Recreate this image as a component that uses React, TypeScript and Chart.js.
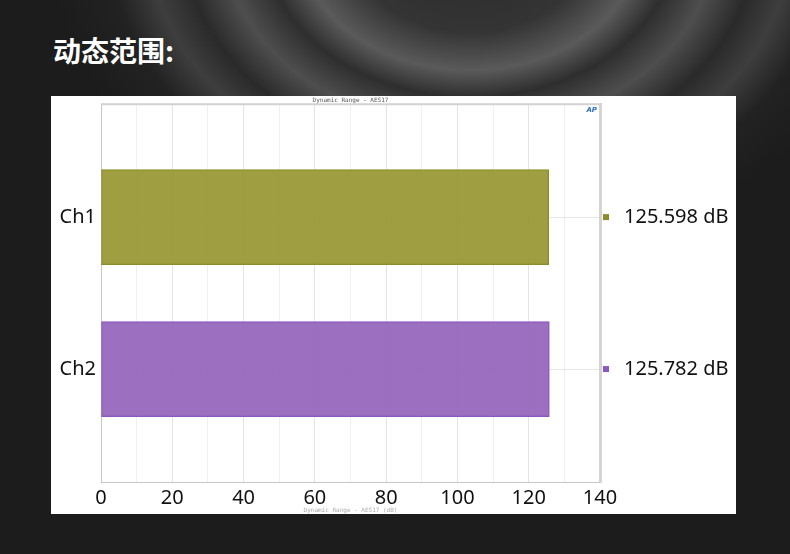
import React, { useEffect, useRef } from "react";
import { Chart, registerables } from "chart.js";

Chart.register(...registerables);

const categories = ["Ch1", "Ch2"];
const values = [125.598, 125.782];
const valueLabels = ["125.598 dB", "125.782 dB"];
const barFill = ["rgba(152,152,52,0.93)", "rgba(150,100,188,0.93)"];
const barBorder = ["#8c8c2c", "#8a58c0"];
const chartTitle = "Dynamic Range - AES17";
const xAxisTitle = "Dynamic Range - AES17 (dB)";
const xMin = 0;
const xMax = 140;
const xStep = 10;
const xLabelEvery = 20;

const FONT = "'Noto Sans', 'Open Sans', sans-serif";

const decorPlugin = {
  id: "decor",
  afterDraw(chart: any) {
    const { ctx, chartArea } = chart;
    const y = chart.scales.y;
    ctx.save();
    // top border of plot
    ctx.strokeStyle = "#d2d2d2";
    ctx.lineWidth = 2;
    ctx.beginPath();
    ctx.moveTo(chartArea.left, chartArea.top);
    ctx.lineTo(chartArea.right + 1, chartArea.top);
    ctx.stroke();
    // legend markers next to value labels
    categories.forEach((_, i) => {
      const cy = y.getPixelForValue(i);
      ctx.fillStyle = barBorder[i];
      ctx.fillRect(chartArea.right + 3, cy - 3, 6, 6);
    });
    // AP logo
    ctx.fillStyle = "#2d6fc4";
    ctx.font = "italic bold 7px 'DejaVu Sans', sans-serif";
    ctx.textAlign = "right";
    ctx.textBaseline = "middle";
    ctx.fillText("AP", chartArea.right - 3, chartArea.top + 6);
    ctx.restore();
  },
};

function App() {
  const ref = useRef<HTMLCanvasElement | null>(null);

  useEffect(() => {
    if (!ref.current) return;
    const idxTicks = (axis: any) => {
      axis.ticks = categories.map((_, i) => ({ value: i }));
    };
    const chart = new Chart(ref.current, {
      type: "bar",
      data: {
        datasets: [
          {
            data: values.map((v, i) => ({ x: v, y: i })),
            backgroundColor: barFill,
            borderColor: barBorder,
            borderWidth: 1,
            borderSkipped: false,
            barThickness: 95,
          } as any,
        ],
      },
      options: {
        animation: false,
        responsive: false,
        indexAxis: "y",
        layout: { padding: 0 },
        plugins: {
          legend: { display: false },
          tooltip: { enabled: false },
          title: {
            display: true,
            text: chartTitle,
            fullSize: false,
            color: "#555",
            font: { family: "'DejaVu Sans Mono', monospace", size: 6, weight: "normal" },
            padding: { top: 1, bottom: 0 },
          } as any,
        },
        scales: {
          x: {
            type: "linear",
            position: "bottom",
            min: xMin,
            max: xMax,
            offset: false,
            ticks: {
              stepSize: xStep,
              autoSkip: false,
              maxRotation: 0,
              padding: 4,
              color: "#111",
              font: { family: FONT, size: 20 },
              callback: (v: any) => (Number(v) % xLabelEvery === 0 ? String(v) : ""),
            },
            grid: {
              drawTicks: false,
              color: (c: any) => (c.tick && c.tick.value % xLabelEvery === 0 ? "#e4e4e4" : "#efefef"),
            },
            border: { color: "#c6c6c6", width: 1 },
            title: {
              display: true,
              text: xAxisTitle,
              color: "#aaa",
              font: { family: "'DejaVu Sans Mono', monospace", size: 6 },
              padding: 0,
            },
            afterFit: (axis: any) => {
              axis.height = 32;
            },
          },
          y: {
            type: "linear",
            position: "left",
            min: -0.743,
            max: 1.743,
            offset: false,
            reverse: true,
            afterBuildTicks: idxTicks,
            ticks: {
              padding: 5,
              color: "#111",
              font: { family: FONT, size: 20 },
              callback: (v: any) => categories[Number(v)] ?? "",
            },
            grid: { drawTicks: false, offset: false, color: "#e6e6e6" },
            border: { color: "#c6c6c6", width: 1 },
            afterFit: (axis: any) => {
              axis.width = 50;
              axis.paddingTop = 0;
              axis.paddingBottom = 0;
            },
          },
          y2: {
            type: "linear",
            position: "right",
            min: -0.743,
            max: 1.743,
            offset: false,
            reverse: true,
            afterBuildTicks: idxTicks,
            ticks: {
              padding: 24,
              color: "#111",
              font: { family: FONT, size: 20 },
              callback: (v: any) => valueLabels[Number(v)] ?? "",
            },
            grid: { display: false, drawTicks: false, offset: false },
            border: { color: "#d4d4d4", width: 3 },
            afterFit: (axis: any) => {
              axis.width = 136;
              axis.paddingTop = 0;
              axis.paddingBottom = 0;
            },
          },
        },
      } as any,
      plugins: [decorPlugin],
    });
    return () => chart.destroy();
  }, []);

  return (
    <div
      style={{
        position: "fixed",
        left: 0,
        top: 0,
        width: 790,
        height: 554,
        overflow: "hidden",
        background:
          "radial-gradient(ellipse 430px 330px at 470px -60px, #2a2a2a 0px, #343434 120px, #5a5a5a 170px, #2e2e2e 205px, #4e4e4e 245px, #2a2a2a 285px, #3e3e3e 320px, #222 360px, #1c1c1c 420px), #1c1c1c",
      }}
    >
      <div
        style={{
          position: "absolute",
          left: 53,
          top: 34,
          color: "#fff",
          fontFamily: "'Noto Sans CJK SC', sans-serif",
          fontWeight: 700,
          fontSize: 28,
          lineHeight: "32px",
          whiteSpace: "nowrap",
        }}
      >
        动态范围:
      </div>
      <div
        style={{
          position: "absolute",
          left: 51,
          top: 96,
          width: 685,
          height: 418,
          background: "#fff",
        }}
      >
        <canvas ref={ref} width={685} height={418} style={{ display: "block" }} />
      </div>
    </div>
  );
}

export default App;
